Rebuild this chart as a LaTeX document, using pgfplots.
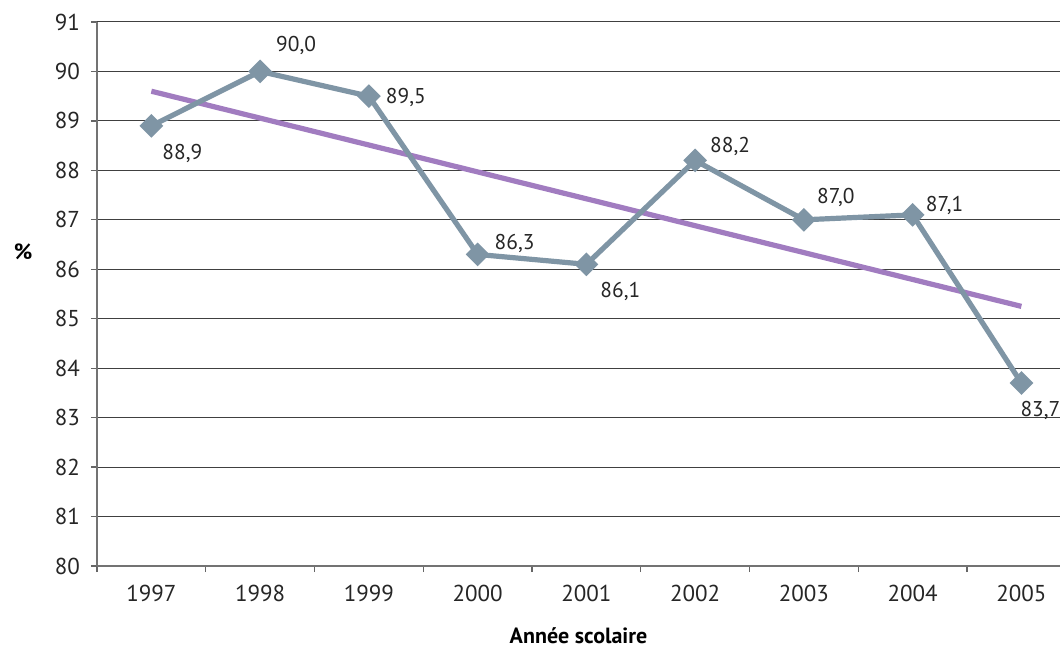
\documentclass[border=0pt]{standalone}
\usepackage{fontspec}
\setmainfont{PT Sans}
\usepackage{pgfplots}
\usepackage{pgfplotstable}
\pgfplotsset{compat=1.18}
\definecolor{serie}{RGB}{127,149,165}
\definecolor{trend}{RGB}{161,124,192}
\pgfplotstableread{
x y dx dy
0 88.9 15.5 -14
1 90.0 18 13
2 89.5 18.5 -0.5
3 86.3 18.5 5.5
4 86.1 17 -13.5
5 88.2 17.5 7
6 87.0 16 11
7 87.1 16 4.5
8 83.7 9.5 -13.5
}\data
\begin{document}
\begin{tikzpicture}
\begin{axis}[
  name=ax,
  scale only axis,
  width=481.5pt, height=272pt,
  xmin=-0.5, xmax=8.355,
  ymin=80, ymax=91,
  ytick={80,81,...,91},
  xtick={0,...,8},
  xticklabels={1997,1998,1999,2000,2001,2002,2003,2004,2005},
  minor xtick={-0.5,0.5,...,8.5},
  major x tick style={draw=none},
  minor tick length=3pt,
  major tick length=3pt,
  tick align=outside,
  tick style={black!60, line width=0.6pt},
  ymajorgrids,
  grid style={black!75, line width=0.5pt},
  axis lines*=left,
  axis line style={black!55, line width=0.8pt, -},
  ticklabel style={font=\fontsize{11.5}{13}\selectfont, text=black!85},
  /pgf/number format/assume math mode=true,
  xticklabel style={yshift=-3pt},
  yticklabel style={xshift=-2pt},
  ylabel={\textbf{\%}},
  ylabel style={rotate=-90, font=\fontsize{11}{13}\selectfont, at={(rel axis cs:0,0.578)}, anchor=center, xshift=-37pt},
  xlabel={\textbf{Année scolaire}},
  xlabel style={font=\fontsize{11}{13}\selectfont, yshift=-6pt},
  clip=false,
]
\addplot[trend, line width=2.6pt] coordinates {(0,89.6) (8,85.25)};
\addplot[serie, line width=2.6pt, mark=square*, mark size=2.9pt,
  mark options={rotate=45, solid, fill=serie},
  nodes near coords,
  visualization depends on={\thisrow{dx} \as \dx},
  visualization depends on={\thisrow{dy} \as \dy},
  every node near coord/.append style={anchor=center, xshift=\dx pt, yshift=\dy pt,
    font=\fontsize{10.7}{12}\selectfont, text=black!85, inner sep=0pt,
    /pgf/number format/.cd, fixed, fixed zerofill, precision=1, use comma, assume math mode=true},
] table[x=x, y=y] {\data};
\end{axis}
\pgfresetboundingbox
\path (ax.south west) ++(-48.5pt,-43.5pt) coordinate (bl);
\path (ax.north west) ++(0pt,11pt) coordinate (tl);
\path (bl) rectangle (tl -| ax.north east);
\end{tikzpicture}
\end{document}
